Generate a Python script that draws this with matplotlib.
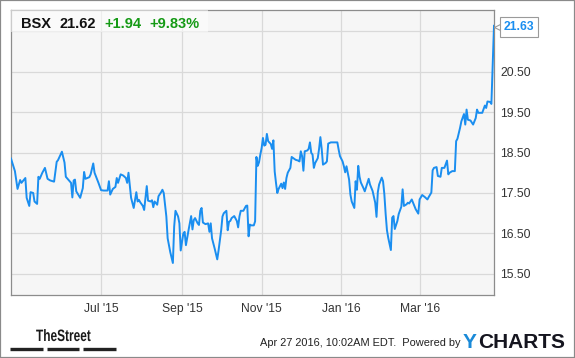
import matplotlib
matplotlib.use("Agg")
import numpy as np
import pandas as pd
import matplotlib.pyplot as plt
import matplotlib.transforms as mtransforms
from matplotlib.patches import Rectangle, PathPatch
from matplotlib.lines import Line2D
from matplotlib.textpath import TextPath
from matplotlib.font_manager import FontProperties

plt.rcParams['font.family'] = ['Liberation Sans', 'DejaVu Sans']

# BSX closing prices (days counted from 1 Jul 2015)
base_date = pd.Timestamp('2015-07-01')
days_from_jul1 = [
    -69, -66, -64, -62, -61, -59, -58, -57, -55, -54, -52, -51, -49, -48, -47,
    -45, -43, -41, -39, -36, -34, -33, -30, -28, -27, -23, -22, -21, -20, -19,
    -16, -14, -13, -12, -9, -8, -6, -5, -2, 0, 2, 5, 6, 7, 9, 11, 12, 13, 15,
    17, 19, 20, 21, 23, 25, 27, 28,
    29, 30, 32, 33, 35, 36, 38, 39, 40, 41, 43, 44, 46, 47, 48, 50, 51, 53, 55,
    56, 57, 59, 60, 61, 63, 64, 65, 67, 69, 70, 71, 72, 74, 75, 76, 77, 78, 80,
    82, 83, 84, 85, 87, 89, 90, 92, 93, 94, 96, 97, 98, 99, 100, 102, 104, 105,
    106, 107, 109, 111,
    112, 113, 114, 115, 117, 118, 119, 120, 121, 122, 123, 124, 125, 126, 127,
    128, 130, 131, 132, 133, 134, 135, 136, 138, 139, 140, 141, 142, 143, 145,
    146, 149, 151, 152, 153, 154, 155, 156, 158, 159, 160, 161, 162, 163, 164,
    166, 167, 168, 169, 170, 172, 173, 174, 176, 178, 181, 182, 183, 185, 186,
    187, 188, 190, 191, 192, 194, 195, 196, 197, 198, 199, 201, 202,
    205, 206, 208, 210, 211, 212, 213, 215, 216, 217, 218, 219, 220, 222, 223,
    224, 225, 227, 228, 230, 231, 232, 234, 235, 236, 238, 240, 241, 243, 244,
    246, 248, 250, 251, 253, 254, 255, 257, 258, 260, 261, 263, 265, 266, 267,
    269, 271, 272, 273, 275, 276, 278, 279, 280, 281, 283, 285, 287, 288, 289,
    290, 292, 294, 295, 296, 298, 299, 301,
]
prices = [
    18.35, 18.04, 17.60, 17.82, 17.75, 17.83, 17.87, 17.38, 17.18, 17.52, 17.50,
    17.29, 17.23, 17.90, 17.85, 18.00, 18.12, 17.85, 17.81, 17.78, 18.27, 18.31,
    18.52, 18.25, 17.90, 17.75, 17.39, 17.81, 17.83, 17.54, 17.38, 17.62, 18.02,
    17.85, 17.89, 17.96, 18.23, 18.00, 17.75, 17.57, 17.56, 17.56, 17.79, 17.46,
    17.60, 17.65, 17.87, 17.75, 17.96, 17.93, 17.87, 17.75, 18.00, 17.38, 17.13,
    17.52, 17.29,
    17.33, 17.27, 17.18, 17.08, 17.67, 17.31, 17.29, 17.32, 17.15, 17.29, 17.21,
    17.42, 17.52, 17.58, 17.50, 16.92, 16.38, 16.04, 15.77, 16.67, 17.06, 16.92,
    16.75, 16.08, 16.50, 16.54, 16.21, 16.58, 16.93, 16.60, 16.83, 16.88, 16.75,
    16.71, 17.06, 17.13, 16.77, 16.73, 16.75, 16.54, 16.75, 16.38, 16.13, 15.86,
    16.08, 16.58, 16.92, 17.00, 17.06, 16.58, 16.79, 16.81, 16.88, 16.93, 16.81,
    16.65, 16.92, 17.06, 17.06, 17.18,
    17.19, 16.43, 16.72, 16.70, 16.70, 16.80, 18.39, 18.17, 18.26, 18.45, 18.61,
    18.86, 18.67, 18.69, 18.96, 18.78, 18.71, 18.59, 18.80, 18.03, 17.75, 17.50,
    17.60, 17.73, 17.62, 17.76, 17.60, 17.87, 18.00, 18.12, 18.39, 18.32, 18.30,
    18.28, 18.53, 18.41, 18.05, 18.53, 18.55, 18.59, 18.75, 18.49, 18.45, 18.12,
    18.24, 18.36, 18.59, 18.88, 18.59, 18.20, 18.24, 18.28, 18.72, 18.75, 18.75,
    18.75, 18.57, 18.41, 18.28, 18.16, 18.01, 18.16, 17.83, 17.46, 17.29, 17.13,
    17.79, 17.58, 18.17, 17.90, 17.76, 17.62, 17.54,
    17.85, 17.71, 17.55, 17.26, 16.91, 17.52, 17.71, 17.88, 17.79, 17.47, 16.98,
    16.58, 16.39, 16.09, 16.89, 16.93, 16.61, 16.81, 16.98, 17.16, 17.59, 17.18,
    17.22, 17.26, 17.24, 17.34, 17.18, 17.10, 16.99, 17.34, 17.45, 17.40, 17.34,
    17.40, 17.51, 18.06, 18.12, 18.14, 17.92, 17.90, 18.12, 18.12, 18.30, 17.96,
    18.00, 18.04, 18.04, 18.78, 18.84, 19.11, 19.27, 19.45, 19.19, 19.56, 19.31,
    19.29, 19.19, 19.35, 19.56, 19.48, 19.48, 19.48, 19.66, 19.60, 19.76, 19.75,
    19.70, 21.63,
]

ticker = 'BSX'
quote_price = '21.62'
quote_change = '+1.94'
quote_pct = '+9.83%'

ytick_values = [15.5, 16.5, 17.5, 18.5, 19.5, 20.5, 21.5]
xtick_dates = ['2015-07-01', '2015-09-01', '2015-11-01', '2016-01-01', '2016-03-01']
xtick_labels = ["Jul '15", "Sep '15", "Nov '15", "Jan '16", "Mar '16"]

dates = base_date + pd.to_timedelta(days_from_jul1, unit='D')

W, H = 575, 358
fig = plt.figure(figsize=(W / 100, H / 100), dpi=100)
fig.patch.set_facecolor('white')


def fx(px):
    return px / W


def fy(py):
    return 1 - py / H


ax = fig.add_axes([fx(11), fy(295), 483 / W, 285 / H])
ax.set_facecolor('#f6f6f6')

line_color = '#1a8ef0'
ax.plot(dates, prices, color=line_color, lw=1.4, zorder=3)

ax.set_xlim(dates[0], dates[-1])
ax.set_ylim(14.98, 22.02)

ax.set_xticks(pd.to_datetime(xtick_dates))
ax.set_xticklabels(xtick_labels)
ax.set_yticks(ytick_values)
ax.set_yticklabels(['%.2f' % v if v < 21 else '' for v in ytick_values])
ax.yaxis.tick_right()
ax.tick_params(axis='both', length=0, labelsize=8.7, colors='#333333')
ax.tick_params(axis='x', pad=5.5)
ax.tick_params(axis='y', pad=4.5)

ax.set_axisbelow(True)
ax.grid(True, color='#d9d9d9', lw=0.9)
for sp in ax.spines.values():
    sp.set_color('#8c8c8c')
    sp.set_linewidth(0.9)

# quote header box
ax.add_patch(Rectangle((0, 1 - 22 / 285), 197 / 483, 22 / 285, transform=ax.transAxes,
                       facecolor='white', alpha=0.55, edgecolor='none', zorder=4))
fig.text(fx(21), fy(28.5), ticker, size=10.5, weight='bold', color='#111111', va='baseline')
fig.text(fx(60), fy(28.5), quote_price, size=10.5, weight='bold', color='#111111', va='baseline')
fig.text(fx(104), fy(28.5), quote_change, size=10.5, weight='bold', color='#159a15', va='baseline')
fig.text(fx(149), fy(28.5), quote_pct, size=10.5, weight='bold', color='#159a15', va='baseline')

# last value flag
tri = mtransforms.offset_copy(ax.transData, fig=fig, x=4.2, y=-0.9, units='points')
ax.plot([dates[-1]], [prices[-1]], marker='<', ms=9, mfc='white', mec='#9a9a9a', mew=0.8,
        transform=tri, clip_on=False, zorder=6)
ax.annotate('%.2f' % prices[-1], xy=(dates[-1], prices[-1]), xytext=(7.0, -0.9),
            textcoords='offset points', ha='left', va='center', size=8.7, weight='bold',
            color=line_color, annotation_clip=False, zorder=7,
            bbox=dict(boxstyle='square,pad=0.3', fc='white', ec='#9a9a9a', lw=0.8))

# footer: TheStreet logo (condensed by squeezing the glyph outlines)
logo = TextPath((0, 0), 'TheStreet', size=16.5,
                prop=FontProperties(family='Liberation Sans', weight='bold'))
logo_tr = mtransforms.Affine2D().scale(0.72 / 100, 1 / 100).translate(36 / 100, (H - 341) / 100)
fig.add_artist(PathPatch(logo, transform=logo_tr + fig.dpi_scale_trans,
                         facecolor='#1a1a1a', edgecolor='none'))
for x0, x1 in [(10, 43), (47, 79), (83, 116)]:
    fig.add_artist(Line2D([fx(x0), fx(x1)], [fy(348.5), fy(348.5)], lw=2.4,
                          color='#222222', transform=fig.transFigure, solid_capstyle='butt'))
fig.text(fx(460), fy(346), 'Apr 27 2016, 10:02AM EDT.  Powered by', size=7.9,
         color='#222222', ha='right', va='baseline')
fig.text(fx(463), fy(348.5), 'Y', size=15, weight='bold', color='#1a8ad8', va='baseline')
fig.text(fx(478), fy(348.5), 'CHARTS', size=15, weight='bold', color='#15151f', va='baseline')

fig.add_artist(Rectangle((0, 0), 1, 1, transform=fig.transFigure, fill=False,
                         edgecolor='#8a8a8a', lw=1.6))

fig.savefig('out.png', dpi=100)
